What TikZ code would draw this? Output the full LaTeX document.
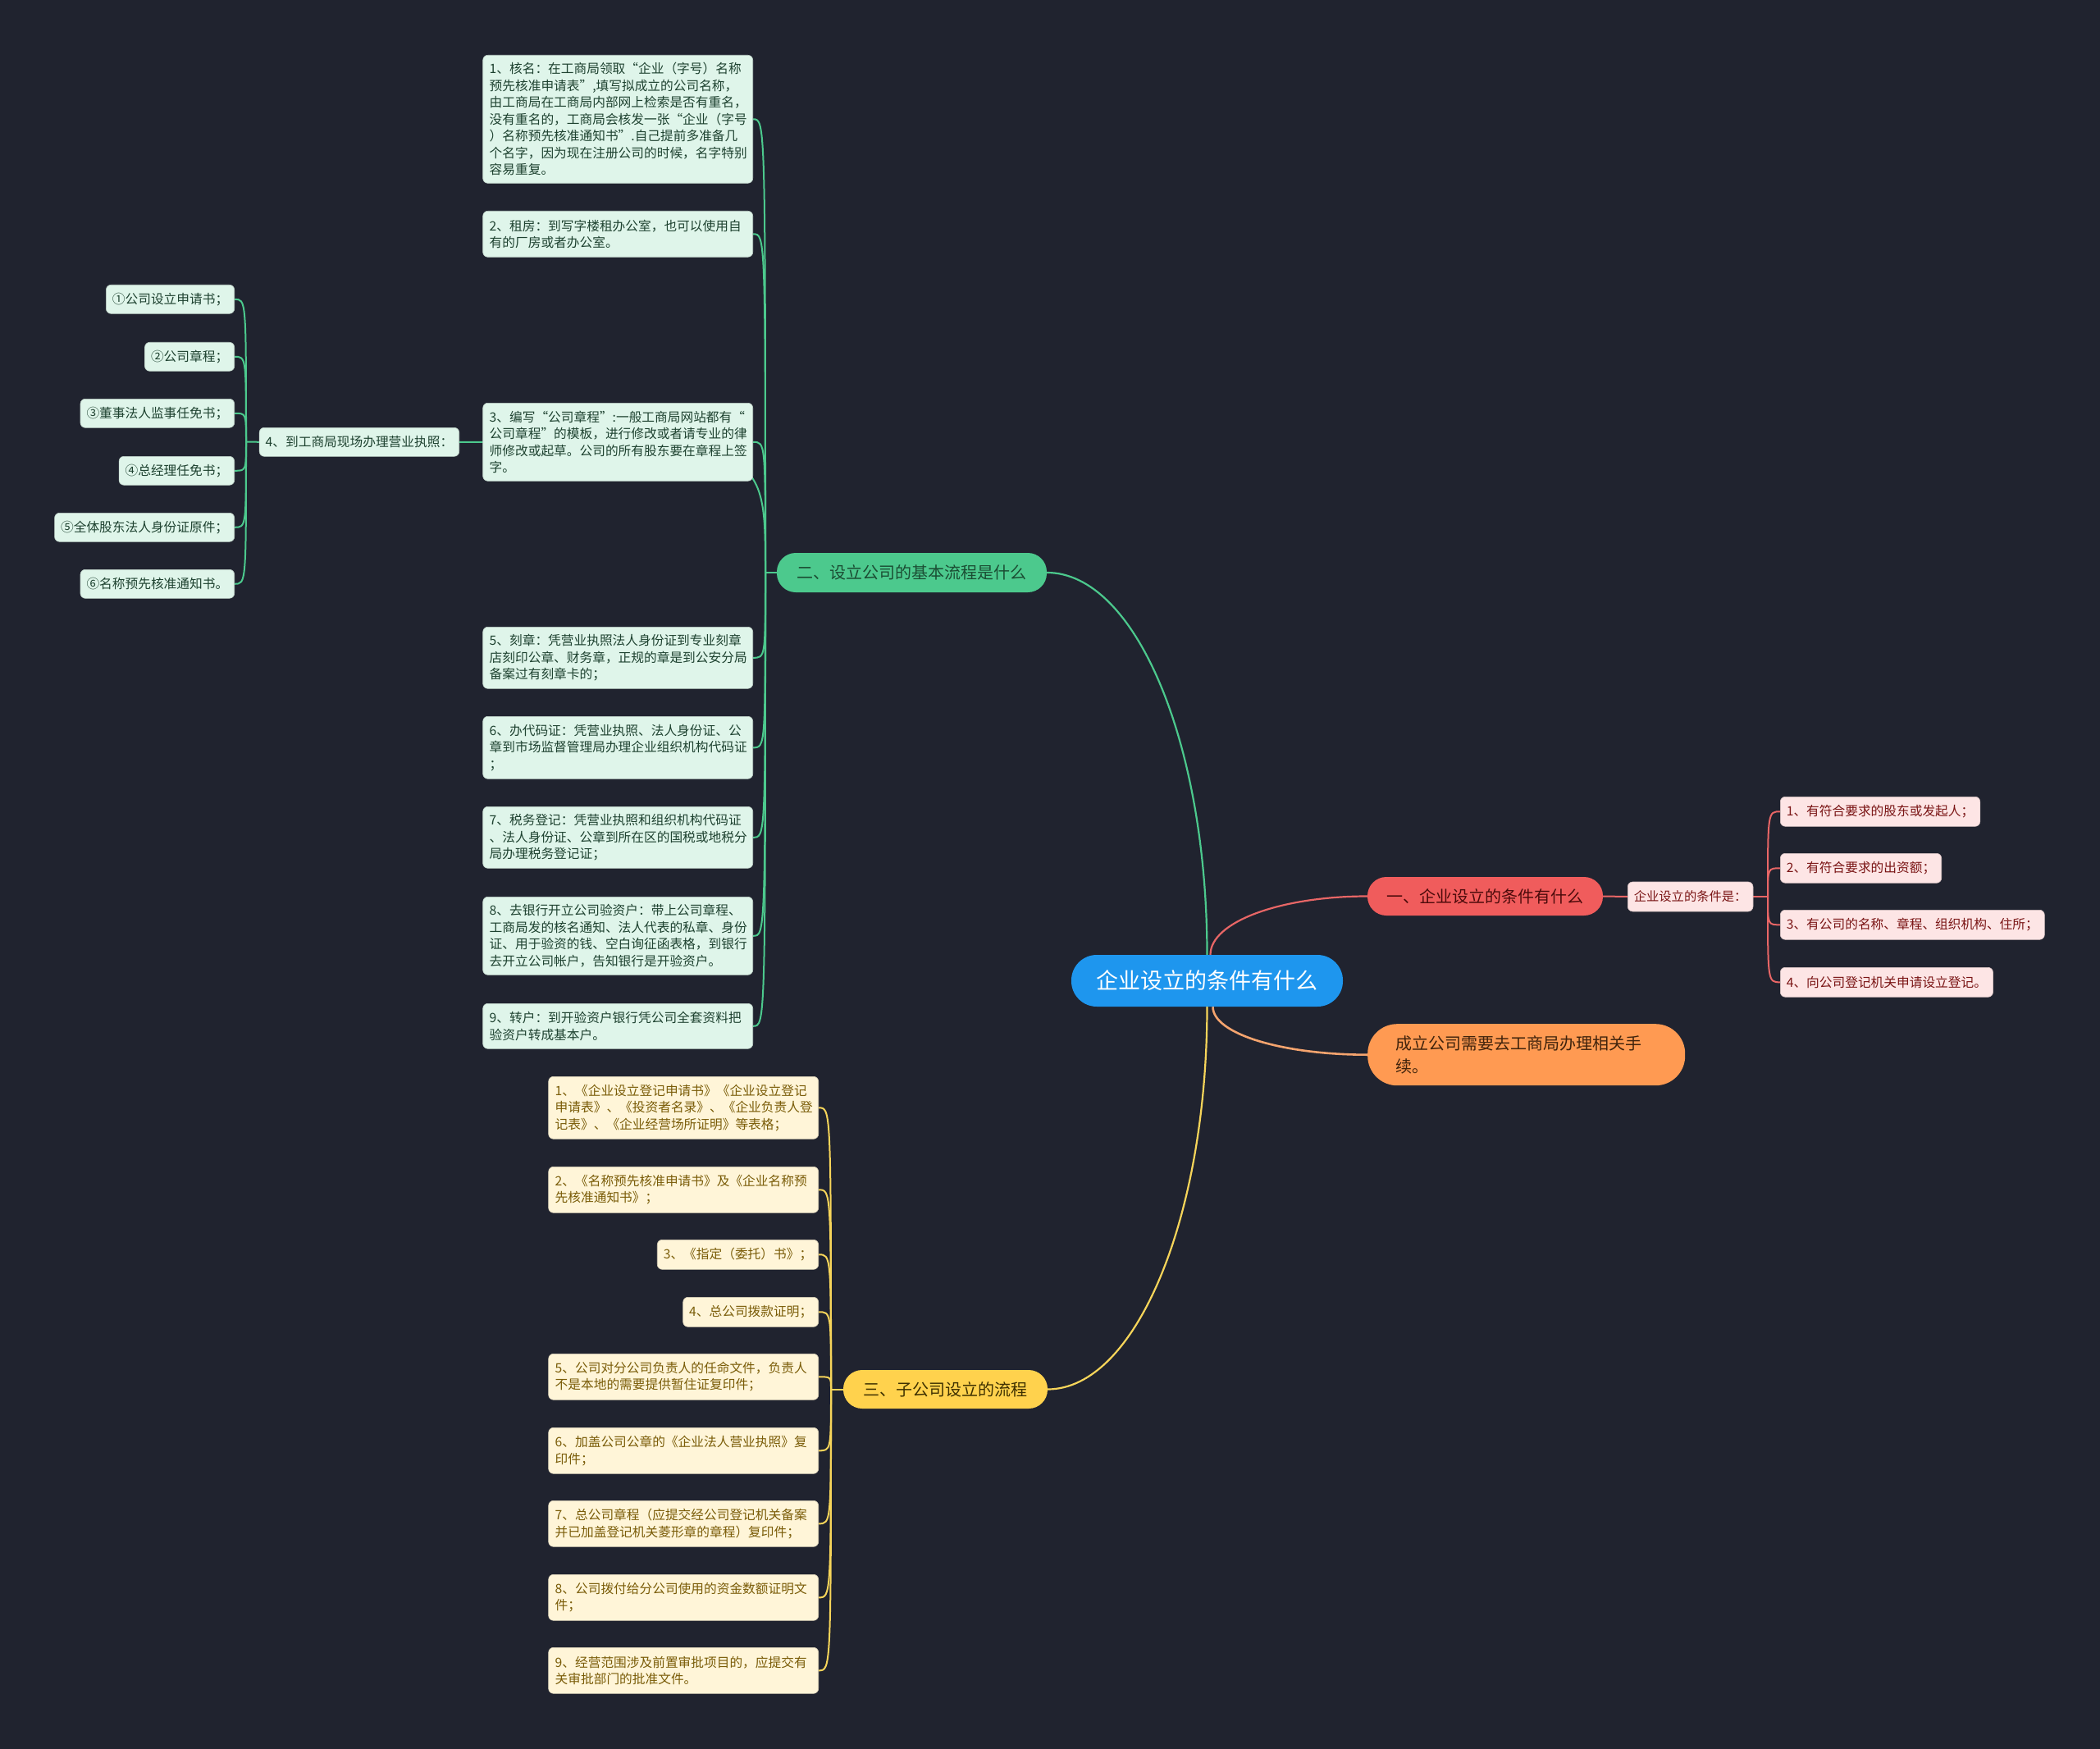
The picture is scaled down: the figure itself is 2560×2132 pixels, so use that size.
\documentclass[tikz,border=0pt]{standalone}
\usepackage{fontspec}
\setmainfont{Noto Sans CJK SC}
\usetikzlibrary{calc}
\pgfdeclarelayer{bglayer}
\pgfdeclarelayer{edgelayer}
\pgfsetlayers{bglayer,edgelayer,main}
\definecolor{cBg}{HTML}{20232F}
\definecolor{cRoot}{HTML}{1E96EE}
\definecolor{cGmain}{HTML}{4CC98D}
\definecolor{cGfill}{HTML}{DFF5EA}
\definecolor{cGtext}{HTML}{1E4230}
\definecolor{cGbtext}{HTML}{1B4D33}
\definecolor{cRmain}{HTML}{F05C5C}
\definecolor{cRline}{HTML}{E86666}
\definecolor{cRfill}{HTML}{FDE5E5}
\definecolor{cRtext}{HTML}{7A1515}
\definecolor{cRbtext}{HTML}{4D0B0B}
\definecolor{cOmain}{HTML}{FF9A52}
\definecolor{cOline}{HTML}{F5A46E}
\definecolor{cOtext}{HTML}{40230C}
\definecolor{cYmain}{HTML}{FFD24D}
\definecolor{cYline}{HTML}{F7D55A}
\definecolor{cYfill}{HTML}{FFF5D8}
\definecolor{cYtext}{HTML}{7A5C08}
\definecolor{cYbtext}{HTML}{3D3000}
\newcommand{\leaffont}{\fontsize{15.7}{20.5}\selectfont}
\newcommand{\branchfont}{\fontsize{20}{28}\selectfont}
\begin{document}
\begin{tikzpicture}[x=1pt,y=-1pt,
  rootbox/.style={fill=cRoot, text=white, font=\fontsize{27}{32}\selectfont, minimum width=331pt, minimum height=63pt, rounded corners=31pt, inner sep=0pt},
  branchbox/.style={font=\branchfont, minimum height=47pt, rounded corners=23pt, inner sep=0pt},
  gleaf/.style={fill=cGfill, draw=cGfill!85!black, line width=0.6pt, text=cGtext, font=\leaffont, rounded corners=6pt, inner xsep=8pt, inner ysep=0pt, align=left, text width=313pt, anchor=north east},
  gsub/.style={fill=cGfill, draw=cGfill!85!black, line width=0.6pt, text=cGtext, font=\leaffont, rounded corners=6pt, inner xsep=7.5pt, inner ysep=0pt, minimum height=35pt, anchor=north east},
  rleaf/.style={fill=cRfill, draw=cRfill!85!black, line width=0.6pt, text=cRtext, font=\leaffont, rounded corners=6pt, inner xsep=7.5pt, inner ysep=0pt, minimum height=36pt, anchor=north west},
  yleaf/.style={fill=cYfill, draw=cYfill!85!black, line width=0.6pt, text=cYtext, font=\leaffont, rounded corners=6pt, inner xsep=8pt, inner ysep=0pt, align=left, text width=313pt, anchor=north east},
  ysub/.style={fill=cYfill, draw=cYfill!85!black, line width=0.6pt, text=cYtext, font=\leaffont, rounded corners=6pt, inner xsep=7.5pt, inner ysep=0pt, minimum height=36pt, anchor=north east},
  gmainedge/.style={draw=cGmain, line width=2.2pt},
  rmainedge/.style={draw=cRline, line width=2.2pt},
  omainedge/.style={draw=cOline, line width=2.6pt},
  ymainedge/.style={draw=cYline, line width=2.2pt},
  gedge/.style={draw=cGmain, line width=2pt},
  redge/.style={draw=cRline, line width=2pt},
  yedge/.style={draw=cYline, line width=2pt}
]
\begin{pgfonlayer}{bglayer}
\fill[cBg] (0,0) rectangle (2560,2132);
\end{pgfonlayer}
\useasboundingbox (0,0) rectangle (2560,2132);

% root
\node[rootbox] (root) at (1471.5,1195.5) {企业设立的条件有什么};

% branches
\node[branchbox, fill=cGmain, text=cGbtext, minimum width=329pt, minimum height=48pt] (gb) at (1111.5,698) {二、设立公司的基本流程是什么};
\node[branchbox, fill=cRmain, text=cRbtext, minimum width=287pt] (rb) at (1810.5,1092.5) {一、企业设立的条件有什么};
\node[fill=cOmain, text=cOtext, font=\branchfont, rounded corners=36pt, anchor=north west, minimum height=75pt, text width=318pt, inner xsep=34.5pt, inner ysep=0pt, align=left] (ob) at (1667,1248) {成立公司需要去工商局办理相关手\\续。};
\node[branchbox, fill=cYmain, text=cYbtext, minimum width=249pt] (yb) at (1152.5,1693.5) {三、子公司设立的流程};

% green leaves
\node[gleaf, minimum height=156pt] (g1) at (918,67) {1、核名：在工商局领取“企业（字号）名称\\预先核准申请表”,填写拟成立的公司名称，\\由工商局在工商局内部网上检索是否有重名，\\没有重名的，工商局会核发一张“企业（字号\\）名称预先核准通知书”.自己提前多准备几\\个名字，因为现在注册公司的时候，名字特别\\容易重复。};
\node[gleaf, minimum height=56pt] (g2) at (918,257) {2、租房：到写字楼租办公室，也可以使用自\\有的厂房或者办公室。};
\node[gleaf, minimum height=95pt] (g3) at (918,491) {3、编写“公司章程”:一般工商局网站都有“\\公司章程”的模板，进行修改或者请专业的律\\师修改或起草。公司的所有股东要在章程上签\\字。};
\node[gsub] (g4) at (560,521) {4、到工商局现场办理营业执照：};
\node[gleaf, minimum height=75pt] (g5) at (918,764) {5、刻章：凭营业执照法人身份证到专业刻章\\店刻印公章、财务章，正规的章是到公安分局\\备案过有刻章卡的；};
\node[gleaf, minimum height=76pt] (g6) at (918,873) {6、办代码证：凭营业执照、法人身份证、公\\章到市场监督管理局办理企业组织机构代码证\\；};
\node[gleaf, minimum height=75pt] (g7) at (918,983) {7、税务登记：凭营业执照和组织机构代码证\\、法人身份证、公章到所在区的国税或地税分\\局办理税务登记证；};
\node[gleaf, minimum height=95pt] (g8) at (918,1093) {8、去银行开立公司验资户：带上公司章程、\\工商局发的核名通知、法人代表的私章、身份\\证、用于验资的钱、空白询征函表格，到银行\\去开立公司帐户，告知银行是开验资户。};
\node[gleaf, minimum height=55pt] (g9) at (918,1223) {9、转户：到开验资户银行凭公司全套资料把\\验资户转成基本户。};

% green sub items
\node[gsub] (s1) at (286,347) {①公司设立申请书；};
\node[gsub] (s2) at (286,417) {②公司章程；};
\node[gsub] (s3) at (286,486) {③董事法人监事任免书；};
\node[gsub] (s4) at (286,556) {④总经理任免书；};
\node[gsub] (s5) at (286,625) {⑤全体股东法人身份证原件；};
\node[gsub] (s6) at (286,694) {⑥名称预先核准通知书。};

% red
\node[rleaf, anchor=west, font=\fontsize{15.3}{20}\selectfont] (rs) at (1984,1093) {企业设立的条件是：};
\node[rleaf] (r1) at (2170,971) {1、有符合要求的股东或发起人；};
\node[rleaf] (r2) at (2170,1040) {2、有符合要求的出资额；};
\node[rleaf] (r3) at (2170,1109) {3、有公司的名称、章程、组织机构、住所；};
\node[rleaf] (r4) at (2170,1179) {4、向公司登记机关申请设立登记。};

% yellow leaves
\node[yleaf, minimum height=76pt] (y1) at (998,1312) {1、《企业设立登记申请书》《企业设立登记\\申请表》、《投资者名录》、《企业负责人登\\记表》、《企业经营场所证明》等表格；};
\node[yleaf, minimum height=56pt] (y2) at (998,1422) {2、《名称预先核准申请书》及《企业名称预\\先核准通知书》；};
\node[ysub] (y3) at (998,1511) {3、《指定（委托）书》；};
\node[ysub] (y4) at (998,1581) {4、总公司拨款证明；};
\node[yleaf, minimum height=56pt] (y5) at (998,1650) {5、公司对分公司负责人的任命文件，负责人\\不是本地的需要提供暂住证复印件；};
\node[yleaf, minimum height=56pt] (y6) at (998,1740) {6、加盖公司公章的《企业法人营业执照》复\\印件；};
\node[yleaf, minimum height=56pt] (y7) at (998,1829) {7、总公司章程（应提交经公司登记机关备案\\并已加盖登记机关菱形章的章程）复印件；};
\node[yleaf, minimum height=56pt] (y8) at (998,1919) {8、公司拨付给分公司使用的资金数额证明文\\件；};
\node[yleaf, minimum height=56pt] (y9) at (998,2008) {9、经营范围涉及前置审批项目的，应提交有\\关审批部门的批准文件。};

% junctions
\coordinate (gj) at (933,698);
\coordinate (sj) at (300,538.5);
\coordinate (rj) at (2155,1093);
\coordinate (yj) at (1013,1693.5);
\coordinate (rtop) at ($(root.north)+(4,0)$);
\coordinate (rbot) at ($(root.south)+(7,0)$);

\begin{pgfonlayer}{edgelayer}
\draw[gmainedge] (root.north) .. controls ($(root.north)+(0,-258)$) and ($(gb.east)+(108,0)$) .. (gb.east);
\draw[rmainedge] (rtop) .. controls ($(rtop)+(0,-40)$) and ($(rb.west)+(-106,0)$) .. (rb.west);
\draw[omainedge] (rbot) .. controls ($(rbot)+(0,33)$) and ($(ob.west)+(-104,0)$) .. (ob.west);
\draw[ymainedge] (root.south) .. controls ($(root.south)+(0,257)$) and ($(yb.east)+(107,0)$) .. (yb.east);

\draw[gedge] (gb.west) -- (gj);
\foreach \n in {g1,g2,g3,g4,g5,g6,g7,g8,g9}
  \draw[gedge] (gj) .. controls (gj |- \n.east) .. (\n.east);
\draw[gedge] (g4.west) -- (sj);
\foreach \n in {s1,s2,s3,s4,s5,s6}
  \draw[gedge] (sj) .. controls (sj |- \n.east) .. (\n.east);

\draw[redge] (rb.east) -- (rs.west);
\draw[redge] (rs.east) -- (rj);
\foreach \n in {r1,r2,r3,r4}
  \draw[redge] (rj) .. controls (rj |- \n.west) .. (\n.west);

\draw[yedge] (yb.west) -- (yj);
\foreach \n in {y1,y2,y3,y4,y5,y6,y7,y8,y9}
  \draw[yedge] (yj) .. controls (yj |- \n.east) .. (\n.east);
\end{pgfonlayer}
\end{tikzpicture}
\end{document}
